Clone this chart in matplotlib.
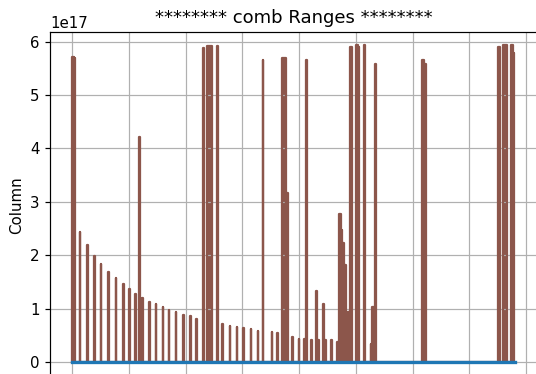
import numpy as np
import matplotlib.pyplot as plt
from matplotlib.transforms import Bbox

# comb spikes: left edge, right edge, peak height (x 1e17)
spike_start = [0.00, 0.25, 1.33, 2.62, 3.90, 5.05, 6.39, 7.71, 8.97, 10.06, 11.14,
               11.84, 12.31, 13.60, 14.77, 15.94, 17.06, 18.29, 19.57, 20.81, 21.86,
               23.04, 23.80, 25.50, 26.49, 27.78, 29.01, 30.18, 31.47, 32.70, 33.63,
               35.16, 36.16, 37.04, 37.71, 38.79, 39.95, 40.85, 41.25, 42.12, 43.00,
               43.40, 44.18, 44.50, 45.70, 46.65, 46.95, 47.35, 47.65, 48.00, 48.65,
               49.00, 49.95, 50.35, 51.40, 52.66, 52.90, 53.30, 61.70, 62.00, 75.10,
               76.00, 77.35, 77.70]
spike_end = [0.25, 0.50, 1.43, 2.72, 4.00, 5.15, 6.49, 7.81, 9.07, 10.16, 11.24,
             11.94, 12.41, 13.70, 14.87, 16.04, 17.16, 18.39, 19.67, 20.91, 21.96,
             23.25, 24.60, 25.76, 26.59, 27.88, 29.11, 30.28, 31.57, 32.80, 33.73,
             35.26, 36.26, 37.71, 38.06, 38.89, 40.05, 41.05, 41.45, 42.22, 43.20,
             43.60, 44.38, 44.70, 45.80, 46.85, 47.35, 47.65, 48.00, 48.25, 48.85,
             49.25, 50.35, 50.55, 51.70, 52.76, 53.20, 53.50, 62.00, 62.30, 75.35,
             76.60, 77.70, 77.90]
spike_top = [5.72, 5.70, 2.44, 2.20, 1.99, 1.83, 1.69, 1.57, 1.46, 1.36, 1.27,
             4.22, 1.20, 1.13, 1.08, 1.03, 0.98, 0.93, 0.89, 0.86, 0.81,
             5.875, 5.92, 5.92, 0.71, 0.675, 0.66, 0.64, 0.61, 0.59, 5.66,
             0.56, 0.54, 5.70, 3.16, 0.47, 0.44, 0.44, 5.66, 0.42, 1.33,
             0.41, 1.09, 0.41, 0.41, 0.375, 2.78, 2.47, 2.22, 1.81, 0.94,
             5.89, 5.94, 5.89, 5.94, 0.34, 1.03, 5.59, 5.66, 5.59, 5.90,
             5.94, 5.94, 5.78]
baseline_x = [0, 78]
baseline_y = [0, 0]

# trace each spike as up / across / down
xs, ys = [], []
for x0, x1, h in zip(spike_start, spike_end, spike_top):
    xs += [x0, x0, x1, x1]
    ys += [0, h * 1e17, h * 1e17, 0]
xs = np.array(xs)
ys = np.array(ys)

dpi = 108
W, H = 536, 430  # full canvas in px; only the top 374 px are kept
fig = plt.figure(figsize=(W / dpi, H / dpi), dpi=dpi)
ax = fig.add_axes([50 / W, (H - 378.6) / H, 486.8 / W, 346.6 / H])

ax.fill_between(xs, ys, color='C5', lw=0)
ax.plot(xs, ys, color='C5', lw=1.5)
ax.plot(baseline_x, baseline_y, color='C0', lw=2.2)

ax.set_xlim(-3.9, 81.9)
ax.set_ylim(-0.31e17, 6.18e17)
ax.set_xticks(range(0, 81, 10))
ax.grid(True)
ax.set_ylabel('Column')
ax.set_title('******** comb Ranges ********')

crop = Bbox([[0, (H - 374) / dpi], [W / dpi, H / dpi]])
fig.savefig('out.png', dpi=dpi, bbox_inches=crop)
